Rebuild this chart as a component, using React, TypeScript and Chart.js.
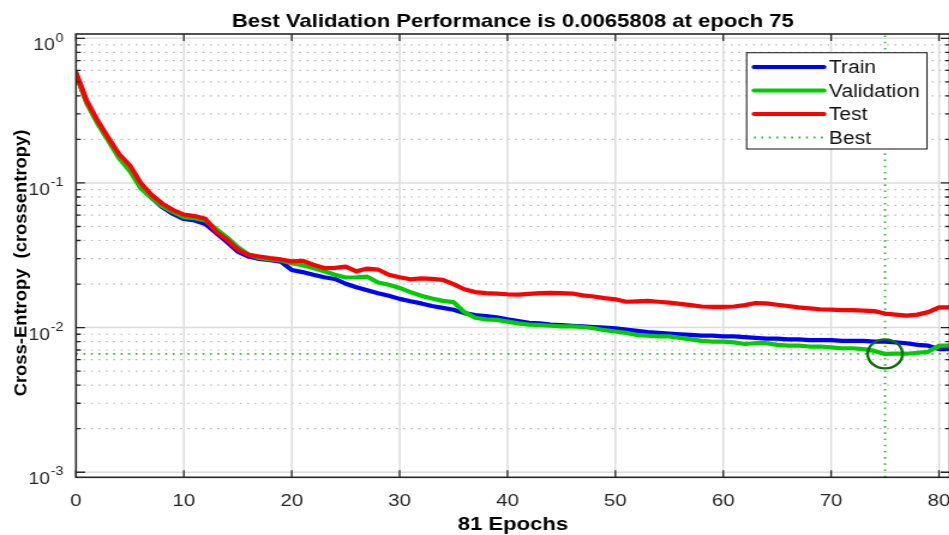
import React, { useEffect, useRef } from "react";
import { Chart, registerables } from "chart.js";

Chart.register(...registerables);

// Training record: cross-entropy per epoch for each data split
const epochs = [
  0, 1, 2, 3, 4, 5, 6, 7, 8, 9, 10, 11, 12, 13, 14, 15, 16, 17, 18, 19, 20,
  21, 22, 23, 24, 25, 26, 27, 28, 29, 30, 31, 32, 33, 34, 35, 36, 37, 38, 39, 40,
  41, 42, 43, 44, 45, 46, 47, 48, 49, 50, 51, 52, 53, 54, 55, 56, 57, 58, 59, 60,
  61, 62, 63, 64, 65, 66, 67, 68, 69, 70, 71, 72, 73, 74, 75, 76, 77, 78, 79, 80, 81,
];

const trainLoss = [
  0.57, 0.36, 0.262, 0.2, 0.152, 0.126, 0.094, 0.079, 0.068, 0.061, 0.0563,
  0.055, 0.052, 0.045, 0.039, 0.0335, 0.031, 0.0298, 0.0292, 0.0286, 0.025,
  0.0242, 0.0232, 0.0223, 0.0217, 0.0201, 0.019, 0.0181, 0.0173, 0.0166, 0.0158,
  0.0152, 0.0147, 0.0141, 0.0137, 0.0133, 0.0126, 0.0122, 0.012, 0.0118, 0.0114,
  0.0111, 0.0108, 0.0107, 0.0105, 0.0104, 0.0103, 0.0102, 0.0101, 0.01, 0.0099,
  0.0097, 0.0095, 0.0093, 0.0092, 0.0091, 0.009, 0.0089, 0.0088, 0.0088, 0.0087,
  0.0087, 0.0086, 0.0085, 0.0084, 0.0084, 0.0083, 0.0083, 0.0082, 0.0082, 0.0082,
  0.0081, 0.0081, 0.0081, 0.008, 0.008, 0.0079, 0.0078, 0.0076, 0.0075, 0.0071, 0.0071,
];

const validationLoss = [
  0.57, 0.355, 0.258, 0.196, 0.148, 0.121, 0.092, 0.079, 0.069, 0.063, 0.058,
  0.057, 0.055, 0.048, 0.042, 0.036, 0.032, 0.0303, 0.0296, 0.0291, 0.0279,
  0.027, 0.0258, 0.0245, 0.0232, 0.0222, 0.0223, 0.0225, 0.0205, 0.0198, 0.0188,
  0.0176, 0.0166, 0.0159, 0.0153, 0.015, 0.0128, 0.0117, 0.0114, 0.0113, 0.011,
  0.0107, 0.0105, 0.0104, 0.0103, 0.0102, 0.0102, 0.0101, 0.0099, 0.0096, 0.0094,
  0.0092, 0.0089, 0.0088, 0.0087, 0.0087, 0.0085, 0.0083, 0.0081, 0.008, 0.008,
  0.0079, 0.0077, 0.0078, 0.0078, 0.0076, 0.0075, 0.0075, 0.0074, 0.0074, 0.0073,
  0.0072, 0.0072, 0.0071, 0.0069, 0.0065808, 0.0066, 0.0066, 0.0067, 0.0068, 0.0075, 0.0075,
];

const testLoss = [
  0.58, 0.37, 0.27, 0.205, 0.158, 0.132, 0.1, 0.083, 0.072, 0.065, 0.0605,
  0.059, 0.0565, 0.046, 0.0405, 0.0347, 0.0318, 0.031, 0.0302, 0.0296, 0.0287,
  0.029, 0.0272, 0.0258, 0.0259, 0.0264, 0.0245, 0.0256, 0.0252, 0.0232, 0.0223,
  0.0216, 0.0219, 0.0217, 0.0214, 0.02, 0.0184, 0.0176, 0.0173, 0.0172, 0.017,
  0.0169, 0.0171, 0.0173, 0.0174, 0.0173, 0.0172, 0.0167, 0.0164, 0.016, 0.0157,
  0.0151, 0.0152, 0.0153, 0.0151, 0.0149, 0.0146, 0.0143, 0.014, 0.0139, 0.0139,
  0.014, 0.0143, 0.0148, 0.0147, 0.0144, 0.0141, 0.0138, 0.0136, 0.0134, 0.0133,
  0.0132, 0.0132, 0.0131, 0.013, 0.0125, 0.0123, 0.0121, 0.0123, 0.0128, 0.0138, 0.0138,
];

const bestEpoch = 75;
const bestValue = 0.0065808;

const xTickValues = [0, 10, 20, 30, 40, 50, 60, 70, 80];
const yDecadeExponents = [0, -1, -2, -3];
const yMinorMultipliers = [2, 3, 4, 5, 6, 7, 8, 9];
const xMax = 81;
const yMin = 0.000923;
const yMax = 1.071;

const seriesLabels = ["Train", "Validation", "Test"];
const seriesColors = ["#0000ff", "#00cc00", "#ff0000"];
const bestLabel = "Best";
const bestColor = "#2fb52f";
const bestMarkerColor = "#0d6e0d";

const titleText = `Best Validation Performance is ${bestValue} at epoch ${bestEpoch}`;
const xLabelText = `${xMax} Epochs`;
const yLabelText = "Cross-Entropy  (crossentropy)";

// the figure is drawn narrow and widened horizontally
const STRETCH = 1.2;
const CANVAS_W = 800;
const CANVAS_H = 535;
const FONT = '"Liberation Sans", Arial, Helvetica, sans-serif';
const AXIS_COLOR = "#262626";

const framePlugin = {
  id: "frame",
  beforeDatasetsDraw(chart: any) {
    const { ctx, chartArea: a, scales } = chart;
    const x = scales.x;
    const y = scales.y;
    ctx.save();
    ctx.beginPath();
    ctx.rect(a.left, a.top, a.right - a.left, a.bottom - a.top);
    ctx.clip();

    // minor log grid (dotted)
    ctx.strokeStyle = "#b8b8b8";
    ctx.lineWidth = 1.2;
    ctx.setLineDash([1.6, 4.6]);
    for (const e of yDecadeExponents) {
      for (const m of yMinorMultipliers) {
        const v = m * Math.pow(10, e);
        if (v <= yMin || v >= yMax) continue;
        const py = y.getPixelForValue(v);
        ctx.beginPath();
        ctx.moveTo(a.left, py);
        ctx.lineTo(a.right, py);
        ctx.stroke();
      }
    }

    // major grid (solid)
    ctx.setLineDash([]);
    ctx.strokeStyle = "#dcdcdc";
    ctx.lineWidth = 1.5;
    for (const e of yDecadeExponents) {
      const py = y.getPixelForValue(Math.pow(10, e));
      ctx.beginPath();
      ctx.moveTo(a.left, py);
      ctx.lineTo(a.right, py);
      ctx.stroke();
    }
    for (const t of xTickValues) {
      const px = x.getPixelForValue(t);
      ctx.beginPath();
      ctx.moveTo(px, a.top);
      ctx.lineTo(px, a.bottom);
      ctx.stroke();
    }
    ctx.restore();
  },
  afterDraw(chart: any) {
    const { ctx, chartArea: a, scales } = chart;
    const x = scales.x;
    const y = scales.y;
    ctx.save();

    // axes box and inward tick marks
    ctx.strokeStyle = AXIS_COLOR;
    ctx.lineWidth = 1.6;
    ctx.setLineDash([]);
    ctx.strokeRect(a.left, a.top, a.right - a.left, a.bottom - a.top);
    ctx.lineWidth = 1.3;
    for (const t of xTickValues) {
      const px = x.getPixelForValue(t);
      ctx.beginPath();
      ctx.moveTo(px, a.bottom);
      ctx.lineTo(px, a.bottom - 7);
      ctx.moveTo(px, a.top);
      ctx.lineTo(px, a.top + 7);
      ctx.stroke();
    }
    for (const e of yDecadeExponents) {
      const py = y.getPixelForValue(Math.pow(10, e));
      ctx.beginPath();
      ctx.moveTo(a.left, py);
      ctx.lineTo(a.left + 7.5, py);
      ctx.moveTo(a.right, py);
      ctx.lineTo(a.right - 7.5, py);
      ctx.stroke();
      for (const m of yMinorMultipliers) {
        const v = m * Math.pow(10, e);
        if (v <= yMin || v >= yMax) continue;
        const pm = y.getPixelForValue(v);
        ctx.beginPath();
        ctx.moveTo(a.left, pm);
        ctx.lineTo(a.left + 4, pm);
        ctx.moveTo(a.right, pm);
        ctx.lineTo(a.right - 4, pm);
        ctx.stroke();
      }
    }

    // y tick labels as powers of ten
    ctx.fillStyle = AXIS_COLOR;
    ctx.textAlign = "left";
    ctx.textBaseline = "alphabetic";
    for (const e of yDecadeExponents) {
      const py = y.getPixelForValue(Math.pow(10, e));
      const base = "10";
      const sup = String(e);
      ctx.font = `16px ${FONT}`;
      const wb = ctx.measureText(base).width;
      ctx.font = `12px ${FONT}`;
      const ws = ctx.measureText(sup).width;
      const x0 = a.left - 11 - ws - wb;
      ctx.font = `16px ${FONT}`;
      ctx.fillText(base, x0, py + 12);
      ctx.font = `12px ${FONT}`;
      ctx.fillText(sup, x0 + wb + 0.5, py + 3.2);
    }

    // legend
    const lx = a.right - 169.3;
    const ly = a.top + 18.7;
    const lw = 150.3;
    const lh = 96.3;
    ctx.fillStyle = "#ffffff";
    ctx.fillRect(lx, ly, lw, lh);
    ctx.strokeStyle = AXIS_COLOR;
    ctx.lineWidth = 1.1;
    ctx.strokeRect(lx, ly, lw, lh);
    const entries = chart.data.datasets.filter((d: any) => d.legend);
    entries.forEach((d: any, i: number) => {
      const cy = ly + 14.3 + i * 23.5;
      ctx.save();
      ctx.strokeStyle = d.borderColor;
      ctx.lineWidth = d.legendWidth;
      ctx.lineCap = d.borderDash ? "butt" : "round";
      ctx.setLineDash(d.borderDash || []);
      ctx.beginPath();
      ctx.moveTo(lx + 6.1, cy);
      ctx.lineTo(lx + 64.5, cy);
      ctx.stroke();
      ctx.restore();
      ctx.fillStyle = "#111111";
      ctx.font = `17.5px ${FONT}`;
      ctx.textAlign = "left";
      ctx.textBaseline = "alphabetic";
      ctx.fillText(d.label, lx + 68.6, cy + 6.3);
    });

    // title and axis labels
    ctx.fillStyle = "#000000";
    ctx.font = `bold 18.4px ${FONT}`;
    ctx.textAlign = "center";
    ctx.textBaseline = "alphabetic";
    const cx = (a.left + a.right) / 2;
    ctx.fillText(titleText, cx, 26.7);
    ctx.fillText(xLabelText, cx, 530);

    ctx.save();
    ctx.translate(22.25, 263);
    ctx.scale(1 / STRETCH, 1);
    ctx.rotate(-Math.PI / 2);
    ctx.font = `bold 18.4px ${FONT}`;
    ctx.textAlign = "center";
    ctx.fillText(yLabelText, 0, 0);
    ctx.restore();

    ctx.restore();
  },
};

export default function App() {
  const canvasRef = useRef<HTMLCanvasElement | null>(null);

  useEffect(() => {
    const canvas = canvasRef.current;
    if (!canvas) return;
    const series = [trainLoss, validationLoss, testLoss];
    const lineSets = series.map((values, i) => ({
      label: seriesLabels[i],
      legend: true,
      legendWidth: 4,
      data: epochs.map((ep, j) => ({ x: ep, y: values[j] })),
      borderColor: seriesColors[i],
      borderWidth: 4.2,
      borderCapStyle: "round",
      borderJoinStyle: "round",
      pointRadius: 0,
      tension: 0,
      order: 2 - i,
    }));

    const chart = new Chart(canvas, {
      type: "line",
      data: {
        datasets: [
          ...lineSets,
          {
            label: bestLabel,
            legend: true,
            legendWidth: 1.8,
            data: [
              { x: 0, y: bestValue },
              { x: xMax, y: bestValue },
            ],
            borderColor: bestColor,
            borderWidth: 1.8,
            borderDash: [1.6, 4.6],
            pointRadius: 0,
            order: 5,
          },
          {
            label: "",
            data: [
              { x: bestEpoch, y: yMin },
              { x: bestEpoch, y: yMax },
            ],
            borderColor: bestColor,
            borderWidth: 1.8,
            borderDash: [1.6, 4.6],
            pointRadius: 0,
            order: 5,
          },
          {
            label: "",
            data: [{ x: bestEpoch, y: bestValue }],
            showLine: false,
            pointRadius: 14.5,
            pointStyle: "circle",
            pointBorderColor: bestMarkerColor,
            pointBorderWidth: 2.4,
            pointBackgroundColor: "rgba(0,0,0,0)",
            order: -1,
          },
        ] as any,
      },
      options: {
        animation: false,
        responsive: false,
        devicePixelRatio: 1,
        events: [],
        layout: {
          autoPadding: false,
          padding: { left: 0, top: 34, right: 8.5, bottom: 0 },
        },
        plugins: {
          legend: { display: false },
          tooltip: { enabled: false },
          title: { display: false },
        },
        scales: {
          x: {
            type: "linear",
            min: 0,
            max: xMax,
            grid: { display: false, drawTicks: false },
            border: { display: false },
            ticks: {
              stepSize: 10,
              includeBounds: false,
              autoSkip: false,
              maxRotation: 0,
              padding: 14,
              color: AXIS_COLOR,
              font: { family: FONT, size: 17 },
            },
            afterFit: (s: any) => {
              s.height = 57.7;
              s.paddingLeft = 0;
              s.paddingRight = 0;
            },
          },
          y: {
            type: "logarithmic",
            min: yMin,
            max: yMax,
            grid: { display: false, drawTicks: false },
            border: { display: false },
            ticks: { display: false },
            afterFit: (s: any) => {
              s.width = 63.33;
              s.paddingTop = 0;
              s.paddingBottom = 0;
            },
          },
        },
      } as any,
      plugins: [framePlugin],
    });

    return () => chart.destroy();
  }, []);

  return (
    <div
      style={{
        position: "fixed",
        left: 0,
        top: 0,
        width: 949,
        height: 535,
        overflow: "hidden",
        background: "#ffffff",
      }}
    >
      <div
        style={{
          width: CANVAS_W,
          height: CANVAS_H,
          transform: `scaleX(${STRETCH})`,
          transformOrigin: "0 0",
        }}
      >
        <canvas
          ref={canvasRef}
          width={CANVAS_W}
          height={CANVAS_H}
          style={{ display: "block", width: CANVAS_W, height: CANVAS_H }}
        />
      </div>
    </div>
  );
}
